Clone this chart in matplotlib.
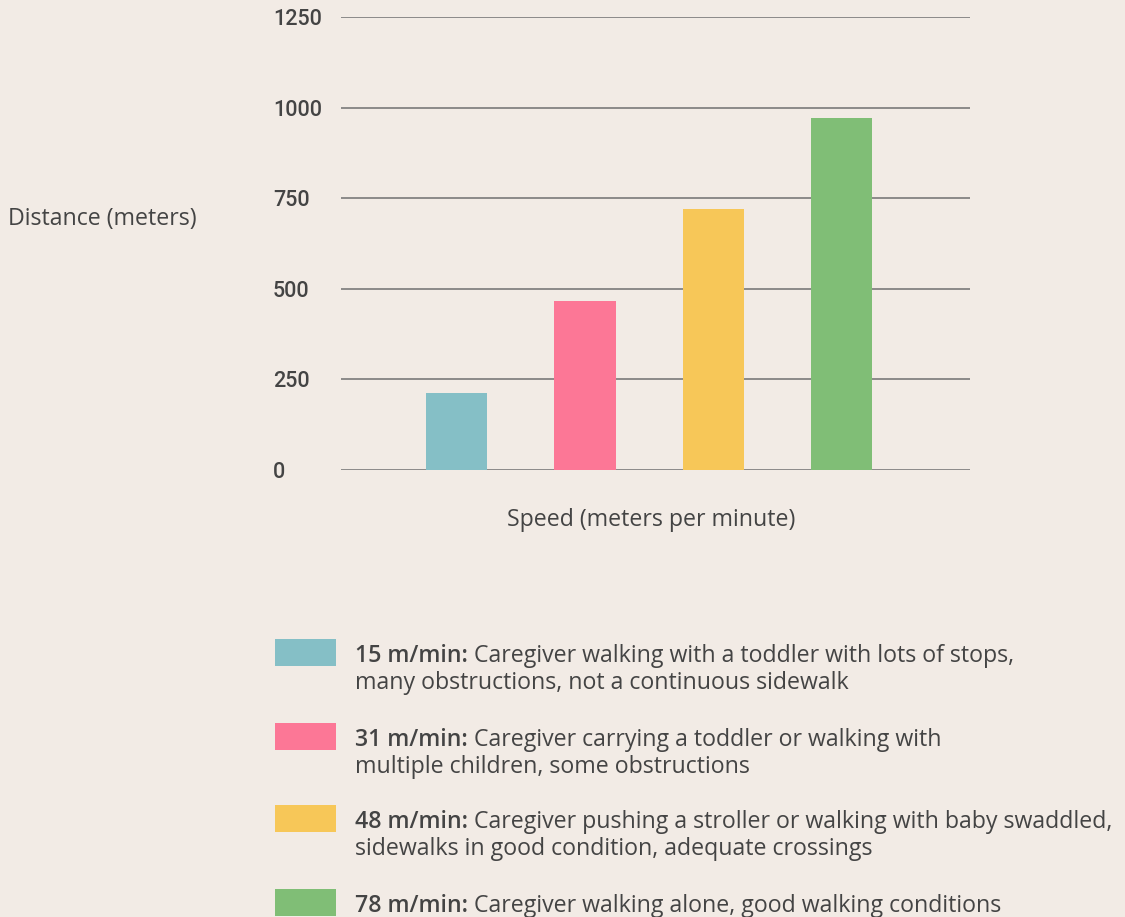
import matplotlib
matplotlib.use("Agg")
import matplotlib.pyplot as plt
from matplotlib.patches import Rectangle

speeds = ["15", "31", "48", "78"]
distances = [213, 466, 720, 971]
colors = ["#85BFC6", "#FC7796", "#F7C758", "#80BE76"]
yticks = [0, 250, 500, 750, 1000, 1250]
bold_labels = ["15 m/min:", "31 m/min:", "48 m/min:", "78 m/min:"]
desc_first = [
    " Caregiver walking with a toddler with lots of stops,",
    " Caregiver carrying a toddler or walking with",
    " Caregiver pushing a stroller or walking with baby swaddled,",
    " Caregiver walking alone, good walking conditions",
]
desc_second = [
    "many obstructions, not a continuous sidewalk",
    "multiple children, some obstructions",
    "sidewalks in good condition, adequate crossings",
    "",
]

BG = "#F2EBE5"
TXT = "#444444"
W, H = 1125, 917
FS = 16.7
plt.rcParams['font.family'] = ['Open Sans', 'DejaVu Sans']

fig = plt.figure(figsize=(W / 100, H / 100), dpi=100, facecolor=BG)
ax = fig.add_axes([341 / W, 1 - 470 / H, (970 - 341) / W, (470 - 17) / H])
ax.set_facecolor(BG)

x = list(range(len(speeds)))
ax.bar(x, distances, width=0.477, color=colors, zorder=3)
ax.set_xlim(-0.9, 4.0)
ax.set_ylim(0, 1250)
ax.set_yticks(yticks)
ax.set_yticklabels([str(v) for v in yticks], fontfamily='Roboto', fontsize=15.5,
                   fontweight='medium', color=TXT, ha='left')
ax.tick_params(axis='y', length=0, pad=49)
ax.set_xticks([])
for s in ax.spines.values():
    s.set_visible(False)
ax.grid(axis='y', color='#7a7a7a', linewidth=1.2, zorder=1)
ax.set_axisbelow(True)

fig.text(8 / W, 1 - 219 / H, "Distance (meters)", fontsize=FS, color=TXT,
         ha='left', va='center')
fig.text(651 / W, 1 - 520 / H, "Speed (meters per minute)", fontsize=FS,
         color=TXT, ha='center', va='center')

renderer = fig.canvas.get_renderer()
box_tops = [639, 723, 805, 889]
for i in range(len(speeds)):
    top = box_tops[i]
    fig.add_artist(Rectangle((275 / W, 1 - (top + 27) / H), 61 / W, 27 / H,
                             transform=fig.transFigure, color=colors[i], lw=0))
    y1 = 1 - (top + 17) / H
    t = fig.text(355 / W, y1, bold_labels[i], fontsize=FS, fontweight='semibold',
                 color=TXT, ha='left', va='center')
    bb = t.get_window_extent(renderer)
    fig.text(bb.x1 / W, y1, desc_first[i], fontsize=FS, color=TXT,
             ha='left', va='center')
    if desc_second[i]:
        fig.text(355 / W, y1 - 27 / H, desc_second[i], fontsize=FS, color=TXT,
                 ha='left', va='center')

fig.savefig("out.png", dpi=100, facecolor=BG)
